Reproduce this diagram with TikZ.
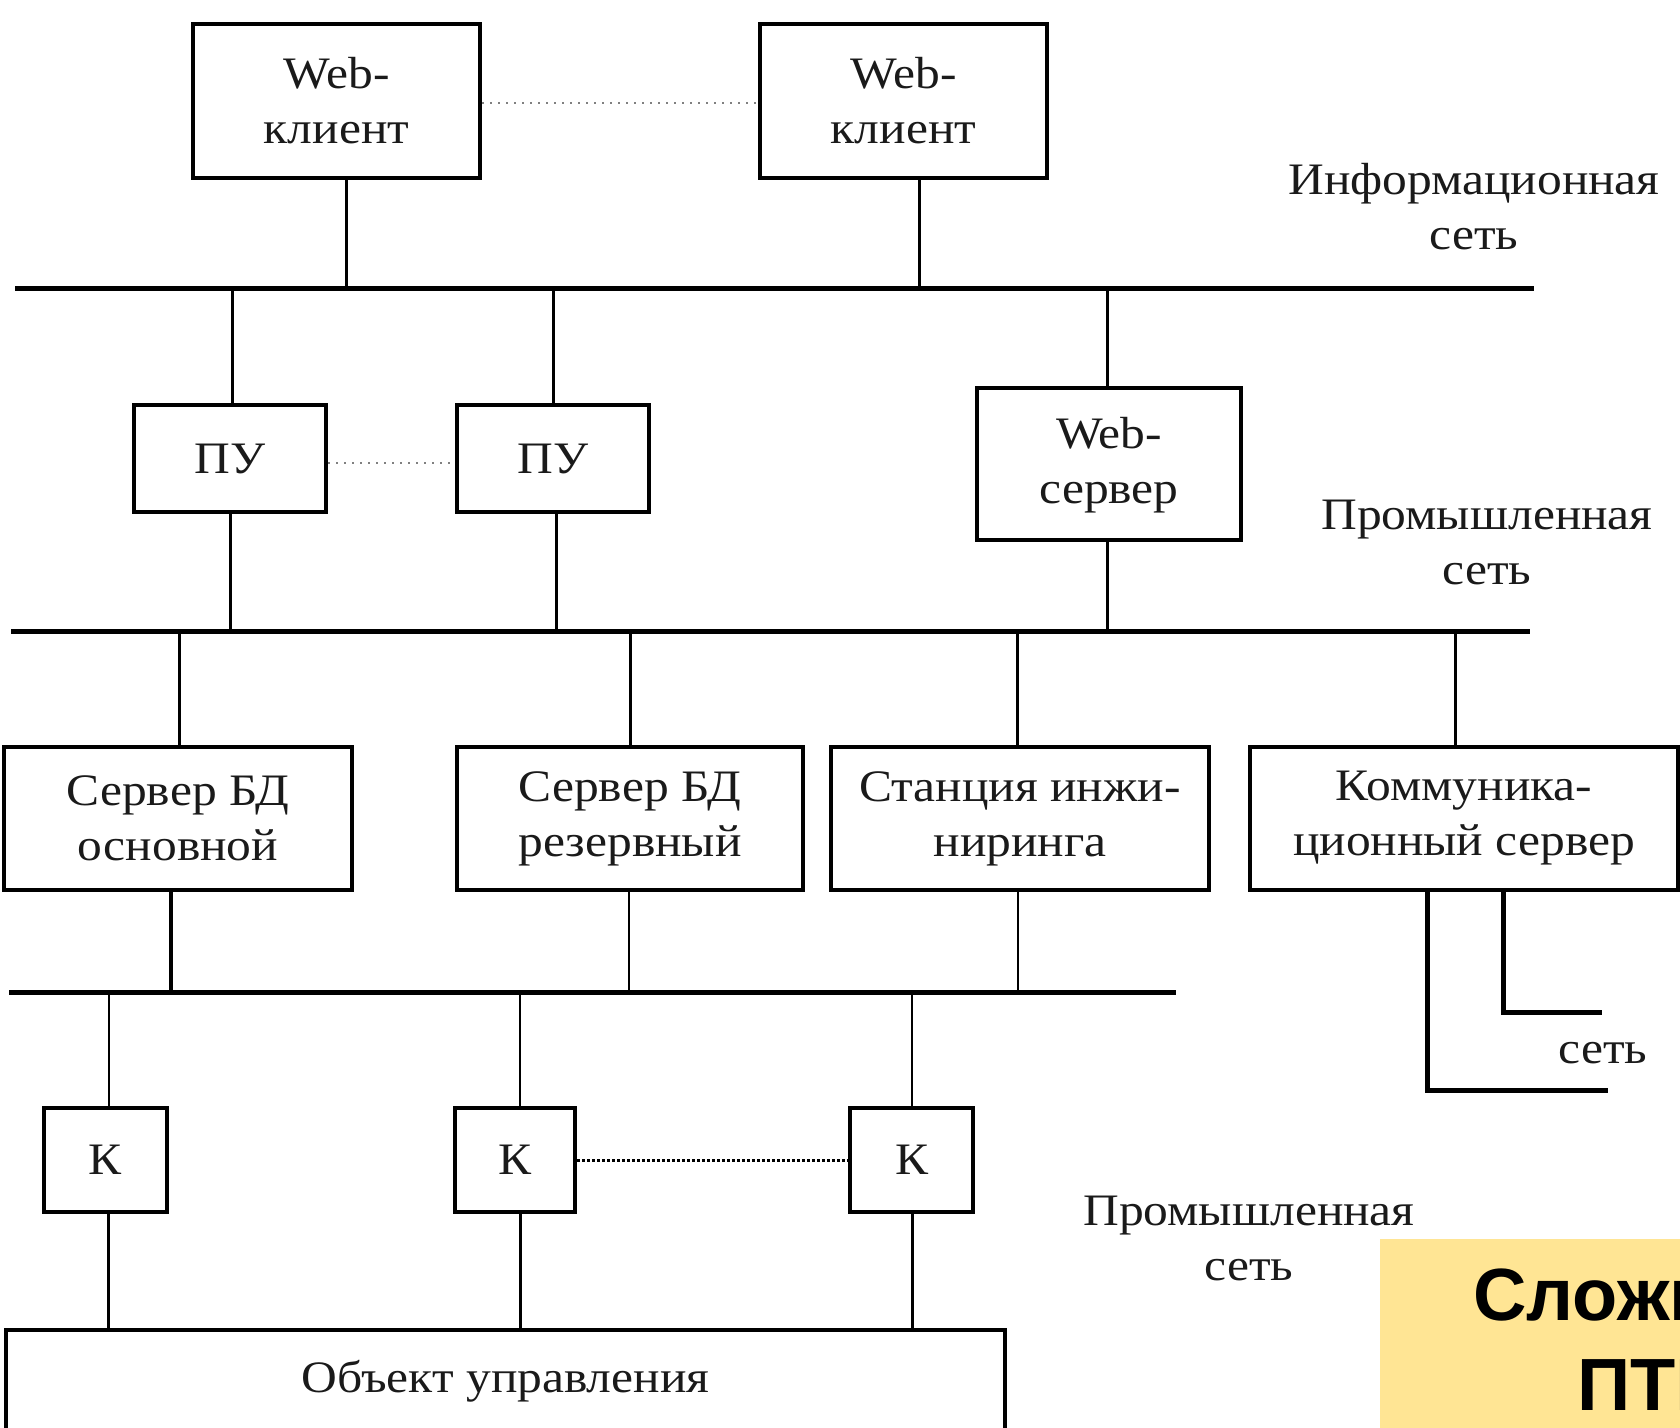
\documentclass[tikz,border=0pt]{standalone}
\usepackage{fontspec}
\setmainfont{Liberation Serif}[FakeStretch=1.1]
\newfontfamily\headfont{Liberation Sans}
\definecolor{ink}{HTML}{1A1A1A}
\definecolor{note}{HTML}{FFE594}
\begin{document}
\begin{tikzpicture}[x=0.5pt,y=-0.5pt,
  every node/.style={text=ink, font=\fontsize{22.5}{27.5}\selectfont},
  box/.style 2 args={draw=black, line width=2.25pt, minimum width=#1, minimum height=#2,
    align=center, inner sep=0pt},
  bus/.style={line width=2.5pt},
  drop/.style={line width=1.5pt},
  thin/.style={line width=1pt},
  dotline/.style={line width=1pt, gray, dash pattern=on 1pt off 3pt},
  densedot/.style={line width=1.5pt, black, dash pattern=on 1.5pt off 1pt},
  label/.style={align=center, inner sep=0pt}]
\useasboundingbox (0,0) rectangle (1680,1428);
\clip (0,0) rectangle (1680,1428);

% clients
\node[box={143.5pt}{77pt}] (wc1) at (336.5,101) {Web-\\клиент};
\node[box={143.5pt}{77pt}] (wc2) at (903.5,101) {Web-\\клиент};
\draw[dotline] ([yshift=-1pt]wc1.east) -- ([yshift=-1pt]wc2.west);

% operator stations and web server
\node[box={96pt}{53.5pt}] (pu1) at (230,458.5) {ПУ};
\node[box={96pt}{53.5pt}] (pu2) at (553,458.5) {ПУ};
\node[box={132pt}{76pt}, text depth=0.4em] (ws) at (1109,464) {Web-\\сервер};
\draw[dotline] ([yshift=-2pt]pu1.east) -- ([yshift=-2pt]pu2.west);

% servers
\node[box={174pt}{71.5pt}] (db1) at (178,818.5) {Сервер БД\\основной};
\node[box={173pt}{71.5pt}] (db2) at (630,818.5) {Сервер БД\\резервный};
\node[box={189pt}{71.5pt}] (eng) at (1020,818.5) {Станция инжи-\\ниринга};
\node[box={214pt}{71.5pt}] (comm) at (1464,818.5) {Коммуника-\\ционный сервер};

% controllers
\node[box={61.5pt}{52pt}] (k1) at (105.5,1160) {К};
\node[box={60pt}{52pt}] (k2) at (515,1160) {К};
\node[box={61.5pt}{52pt}] (k3) at (911.5,1160) {К};
\draw[densedot] (k2) -- (k3);

% plant
\node[box={499.5pt}{51pt}] (obj) at (505.5,1381) {Объект управления};

% buses
\coordinate (b1l) at (15,289);   \coordinate (b1r) at (1534,289);
\coordinate (b2l) at (11,631);   \coordinate (b2r) at (1530,631);
\coordinate (b3l) at (9,992);    \coordinate (b3r) at (1176,992);
\draw[bus] (b1l) -- (b1r);
\draw[bus] (b2l) -- (b2r);
\draw[bus] (b3l) -- (b3r);

% taps on the information network
\coordinate (t1) at (346,289);  \coordinate (t2) at (919,289);
\coordinate (t3) at (232,289);  \coordinate (t4) at (553,289);
\coordinate (t5) at (1107,289);
\draw[drop] (t1) -- (t1 |- wc1.south);
\draw[drop] (t2) -- (t2 |- wc2.south);
\draw[drop] (t3) -- (t3 |- pu1.north);
\draw[drop] (t4) -- (t4 |- pu2.north);
\draw[drop] (t5) -- (t5 |- ws.north);

% taps on the upper industrial network
\coordinate (u1) at (230,631);  \coordinate (u2) at (556,631);
\coordinate (u3) at (1107,631); \coordinate (u4) at (179,631);
\coordinate (u5) at (630,631);  \coordinate (u6) at (1017,631);
\coordinate (u7) at (1455,631);
\draw[drop] (u1) -- (u1 |- pu1.south);
\draw[drop] (u2) -- (u2 |- pu2.south);
\draw[drop] (u3) -- (u3 |- ws.south);
\draw[drop] (u4) -- (u4 |- db1.north);
\draw[drop] (u5) -- (u5 |- db2.north);
\draw[drop] (u6) -- (u6 |- eng.north);
\draw[drop] (u7) -- (u7 |- comm.north);

% taps on the lower industrial network
\coordinate (v1) at (171,992);  \coordinate (v2) at (629,992);
\coordinate (v3) at (1018,992); \coordinate (v4) at (109,992);
\coordinate (v5) at (520,992);  \coordinate (v6) at (912,992);
\draw[line width=1.75pt] (v1) -- (v1 |- db1.south);
\draw[thin] (v2) -- (v2 |- db2.south);
\draw[thin] (v3) -- (v3 |- eng.south);
\draw[thin] (v4) -- (v4 |- k1.north);
\draw[thin] (v5) -- (v5 |- k2.north);
\draw[thin] (v6) -- (v6 |- k3.north);

% controllers to plant
\coordinate (w1) at (108,1160); \coordinate (w2) at (520,1160);
\coordinate (w3) at (912,1160);
\draw[drop] (w1 |- k1.south) -- (w1 |- obj.north);
\draw[drop] (w2 |- k2.south) -- (w2 |- obj.north);
\draw[drop] (w3 |- k3.south) -- (w3 |- obj.north);

% links from the communication server
\coordinate (c1) at (1427,1090); \coordinate (c1e) at (1608,1090);
\coordinate (c2) at (1503,1012); \coordinate (c2e) at (1602,1012);
\draw[bus] (c1 |- comm.south) -- (c1) -- (c1e);
\draw[bus] (c2 |- comm.south) -- (c2) -- (c2e);

% network labels
\node[label] (linfo) at (1474,207) {Информационная\\сеть};
\node[label] (lind1) at (1487,542) {Промышленная\\сеть};
\node[label] (lind2) at (1249,1238) {Промышленная\\сеть};
\node[label] (lnet) at (1603,1053) {сеть};

% title plate
\fill[note] (1380,1239) rectangle (1690,1440);
\node[anchor=base west, inner sep=0pt, text=black,
  font=\headfont\bfseries\fontsize{37}{44}\selectfont] (t1l) at (1473,1320) {Сложность};
\node[anchor=base west, inner sep=0pt, text=black,
  font=\headfont\bfseries\fontsize{37}{44}\selectfont] (t2l) at (1577,1410) {ПТК};
\end{tikzpicture}
\end{document}
